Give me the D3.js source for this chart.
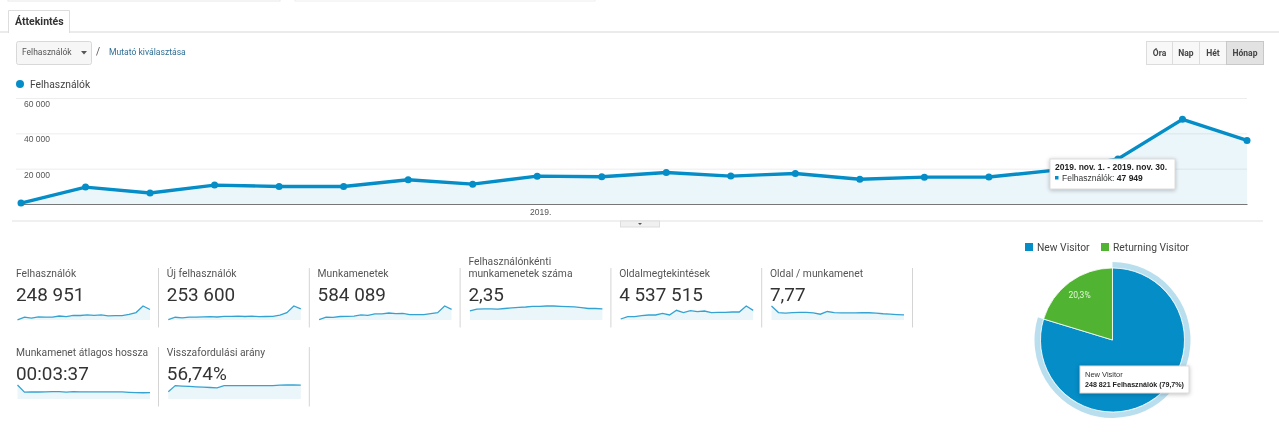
<!DOCTYPE html>
<html>
<head>
<meta charset="utf-8">
<script src="https://d3js.org/d3.v7.min.js"></script>
<style>
  html, body { margin: 0; background: #fff; overflow: hidden; }
  svg { display: block; font-family: Roboto, sans-serif; filter: blur(0.35px); }
  .arial { font-family: "Liberation Sans", Arial, sans-serif; }
</style>
</head>
<body>
<svg id="chart" width="1279" height="440"></svg>
<script>
const months = ["2018-05","2018-06","2018-07","2018-08","2018-09","2018-10","2018-11","2018-12",
  "2019-01","2019-02","2019-03","2019-04","2019-05","2019-06","2019-07","2019-08","2019-09","2019-10","2019-11","2019-12"];

// monthly users
const users = [500,9560,6200,10700,9900,9900,13700,11250,15750,15400,17800,15800,17300,14000,15200,15300,19000,25500,47949,36000];
const yTicks = [20000,40000,60000];

const newUsers = [1000,7500,6000,8000,8000,8300,9000,8200,9800,9800,10300,9500,10300,9000,9500,10000,13500,20000,38000,30000];
const sessions = [2000,15000,13500,18000,19000,20000,26000,24000,32000,31000,36000,33000,34000,28000,28000,28000,33000,38000,72000,55000];
const sessionsPerUser = [1.62,1.95,1.98,1.97,1.95,2.05,2.15,2.25,2.32,2.45,2.42,2.5,2.5,2.45,2.4,2.35,2.2,2.05,2.05,2.0];
const pageviews = [33,110,110,143,165,165,220,165,319,242,308,275,297,242,253,253,264,264,462,319];
const pagesPerSession = [15.5,8.2,7.6,8.1,8.5,8.5,7.9,6.4,9.4,8.2,7.9,7.9,7.9,8,8,7.6,6.9,6.4,6,5.6];
const sessionLength = [400,195,205,200,205,210,212,198,208,205,205,203,203,203,203,203,190,180,178,180];
const bounceRate = [30,56,54,52.5,51,49.5,48,46.5,55.5,55.5,55.5,56,56,55.5,55.5,56,58,58.5,58.5,58];

const metricTitles = [["Felhasználók"],["Új felhasználók"],["Munkamenetek"],["Felhasználónkénti","munkamenetek száma"],
  ["Oldalmegtekintések"],["Oldal / munkamenet"],["Munkamenet átlagos hossza"],["Visszafordulási arány"]];
const metricValues = ["248 951","253 600","584 089","2,35","4 537 515","7,77","00:03:37","56,74%"];
const metricSeries = [users,newUsers,sessions,sessionsPerUser,pageviews,pagesPerSession,sessionLength,bounceRate];

const pieLabels = ["New Visitor","Returning Visitor"];
const pieValues = [248821,63376];
const pieColors = ["#058dc7","#50b432"];

const blue = "#058dc7";
const svg = d3.select("#chart");

// header bits
svg.append("rect").attr("x",8).attr("y",-3).attr("width",272).attr("height",4).attr("fill","#fff").attr("stroke","#e8e8e8");
svg.append("rect").attr("x",295).attr("y",-3).attr("width",300).attr("height",4).attr("fill","#fff").attr("stroke","#eee");
svg.append("line").attr("x1",0).attr("x2",1279).attr("y1",32).attr("y2",32).attr("stroke","#e4e4e4").attr("stroke-width",1.5);
svg.append("path").attr("d","M8.5,33V10.5H69.5V33").attr("fill","#fff").attr("stroke","#ddd");
svg.append("text").text("Áttekintés").attr("x",15).attr("y",25).attr("font-size",10.5).attr("font-weight",700).attr("fill","#333");

svg.append("rect").attr("x",16.5).attr("y",41.5).attr("width",75).attr("height",23).attr("rx",2).attr("fill","#f6f6f6").attr("stroke","#d8d8d8");
svg.append("text").text("Felhasználók").attr("x",22).attr("y",55).attr("font-size",8.5).attr("fill","#555");
svg.append("path").attr("d","M81,51h6l-3,3.5z").attr("fill","#555");
svg.append("text").text("/").attr("x",96).attr("y",55).attr("font-size",10).attr("fill","#555");
svg.append("text").text("Mutató kiválasztása").attr("x",109).attr("y",55).attr("font-size",8.6).attr("fill","#2f6f94");

const periods = ["Óra","Nap","Hét","Hónap"];
const periodX = d3.scaleOrdinal().domain(periods).range([1146,1172,1199,1226]);
const periodW = d3.scaleOrdinal().domain(periods).range([26,27,27,37]);
periods.forEach(p => {
  const on = p === "Hónap";
  svg.append("rect").attr("x",periodX(p)+.5).attr("y",41.5).attr("width",periodW(p)).attr("height",23)
    .attr("fill",on ? "#e2e2e2" : "#f8f8f8").attr("stroke",on ? "#c8c8c8" : "#dcdcdc");
  svg.append("text").text(p).attr("x",periodX(p)+periodW(p)/2+.5).attr("y",56).attr("text-anchor","middle")
    .attr("font-size",8.5).attr("font-weight",700).attr("fill","#444");
});

// legend
svg.append("circle").attr("cx",20).attr("cy",84).attr("r",4).attr("fill",blue);
svg.append("text").text("Felhasználók").attr("x",30).attr("y",88).attr("font-size",10.3).attr("fill","#444");

// main chart
const x = d3.scalePoint().domain(months).range([21,1247]);
const y = d3.scaleLinear().domain([0,60000]).range([204,98]);

const yAxis = svg.append("g").attr("transform","translate(1247,0)")
  .call(d3.axisLeft(y).tickValues(yTicks).tickSize(1231).tickFormat(d => d3.format(",")(d).replace(",", " ")));
yAxis.select(".domain").remove();
yAxis.selectAll("line").attr("stroke","#ededed");
yAxis.selectAll("text").attr("class","arial").attr("x",-1223).attr("dy",8.5).attr("text-anchor","start")
  .attr("font-size",8.5).attr("fill","#555");

svg.append("path").datum(users).attr("fill",blue).attr("fill-opacity",.08)
  .attr("d",d3.area().x((d,i) => x(months[i])).y0(y(0)).y1(d => y(d)));

const xAxis = svg.append("g").attr("transform","translate(0,204)")
  .call(d3.axisBottom(x).tickSize(0).tickValues(["2019-01"]).tickFormat(() => "2019."));
xAxis.select(".domain").attr("stroke","#777").attr("stroke-width",1.2);
xAxis.selectAll("text").attr("class","arial").attr("x",3).attr("y",5).attr("font-size",8.5).attr("fill","#555");

svg.append("path").datum(users).attr("fill","none").attr("stroke",blue).attr("stroke-width",3.4)
  .attr("d",d3.line().x((d,i) => x(months[i])).y(d => y(d)));
svg.selectAll(".dot").data(users).join("circle").attr("class","dot")
  .attr("cx",(d,i) => x(months[i])).attr("cy",d => y(d)).attr("r",3.5).attr("fill",blue);

svg.append("line").attr("x1",12).attr("x2",1263).attr("y1",221).attr("y2",221).attr("stroke","#e2e2e2").attr("stroke-width",1.2);
svg.append("rect").attr("x",620.5).attr("y",221).attr("width",39).attr("height",6).attr("fill","#f0f0f0").attr("stroke","#ddd");
svg.append("path").attr("d","M638,223h4l-2,2z").attr("fill","#555");

// main tooltip
const tip = svg.append("g").attr("class","arial");
tip.append("rect").attr("x",1050).attr("y",159).attr("width",125).attr("height",30).attr("fill","#fff")
  .attr("stroke","#ddd").style("filter","drop-shadow(0 1px 2px rgba(0,0,0,.25))");
tip.append("text").text("2019. nov. 1. - 2019. nov. 30.").attr("x",1055).attr("y",170).attr("font-size",8.5).attr("font-weight",700).attr("fill","#222");
tip.append("rect").attr("x",1055).attr("y",176).attr("width",3.5).attr("height",3.5).attr("fill",blue);
tip.append("text").text("Felhasználók: ").attr("x",1062).attr("y",181).attr("font-size",8.5).attr("fill","#333")
  .append("tspan").text("47 949").attr("font-weight",700).attr("fill","#222");

// metric tiles
const cols = d3.scaleLinear().domain([0,1]).range([16,166.8]);
metricTitles.forEach((title,i) => {
  const col = i % 6, row = Math.floor(i / 6);
  const left = cols(col), top = row * 79;
  const g = svg.append("g").attr("transform",`translate(${left},${top})`);
  title.forEach((t,j) => {
    g.append("text").text(t).attr("x",0).attr("y",277 - (title.length - 1 - j) * 12).attr("font-size",10.3).attr("fill","#555");
  });
  g.append("text").text(metricValues[i]).attr("x",0).attr("y",301).attr("font-size",18.9).attr("fill","#333");

  const values = metricSeries[i];
  const sx = d3.scalePoint().domain(d3.range(values.length)).range([1.5,134]);
  const sy = d3.scaleLinear().domain([0,d3.max(values)]).range([320,306]);
  g.append("path").datum(values).attr("fill",blue).attr("fill-opacity",.08)
    .attr("d",d3.area().x((d,k) => sx(k)).y0(sy(0)).y1(d => sy(d)));
  g.append("path").datum(values).attr("fill","none").attr("stroke",blue).attr("stroke-opacity",.8).attr("stroke-width",1.3)
    .attr("d",d3.line().x((d,k) => sx(k)).y(d => sy(d)));
  g.append("line").attr("x1",142.5).attr("x2",142.5).attr("y1",268).attr("y2",327.5).attr("stroke","#d4d4d4");
});

// pie
const pieG = svg.append("g").attr("transform","translate(1112.5,340)");
const slices = d3.pie().sort(null)(pieValues);
const arc = d3.arc().innerRadius(0).outerRadius(72);
pieG.selectAll(".slice").data(slices).join("path").attr("class","slice")
  .attr("d",arc).attr("fill",(d,i) => pieColors[i]).attr("stroke","#fff").attr("stroke-width",.8);
pieG.append("path").datum(slices[0]).attr("fill",pieColors[0]).attr("fill-opacity",.28)
  .attr("d",d3.arc().innerRadius(72.5).outerRadius(78));
pieG.append("text").text("20,3%").attr("x",-33).attr("y",-42).attr("text-anchor","middle").attr("font-size",8.5).attr("fill","#e6f5dc");

// pie legend
const legendX = d3.scaleOrdinal().domain(pieLabels).range([1025,1101]);
pieLabels.forEach((l,i) => {
  svg.append("rect").attr("x",legendX(l)).attr("y",243).attr("width",8).attr("height",8).attr("fill",pieColors[i]);
  svg.append("text").text(l).attr("x",legendX(l) + 12).attr("y",251).attr("font-size",10.3).attr("fill","#444");
});

// pie tooltip
const pieTip = svg.append("g").attr("class","arial");
pieTip.append("rect").attr("x",1080).attr("y",366).attr("width",109).attr("height",27).attr("fill","#fff")
  .attr("stroke","#ddd").style("filter","drop-shadow(0 1px 2px rgba(0,0,0,.25))");
pieTip.append("text").text("New Visitor").attr("x",1085).attr("y",377).attr("font-size",7.5).attr("fill","#333");
pieTip.append("text").text("248 821 Felhasználók (79,7%)").attr("x",1085).attr("y",387).attr("font-size",7.1).attr("font-weight",700).attr("fill","#222");
</script>
</body>
</html>
